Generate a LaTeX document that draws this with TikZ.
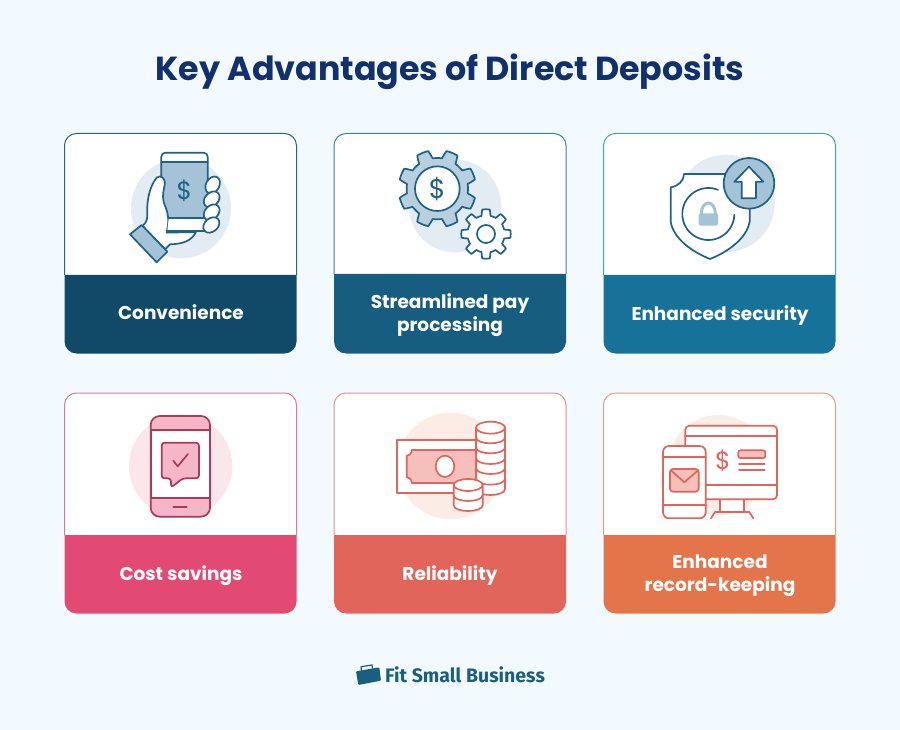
\documentclass[tikz,border=0pt]{standalone}
\usepackage{fontspec}
\setmainfont{Poppins}
\newfontfamily\logofont{Fira Sans}
\definecolor{bgc}{HTML}{F2FAFF}
\definecolor{navy}{HTML}{12306B}
\definecolor{bstroke}{HTML}{1F6285}
\definecolor{bfill}{HTML}{A5C3D6}
\definecolor{bcirc}{HTML}{E2ECF2}
\definecolor{pstroke}{HTML}{A83A5E}
\definecolor{pfill}{HTML}{F5B6C8}
\definecolor{pcirc}{HTML}{FBE6EC}
\definecolor{rstroke}{HTML}{E0655C}
\definecolor{rfill}{HTML}{F5C0BB}
\definecolor{rcirc}{HTML}{FBECE6}
\definecolor{logoc}{HTML}{1B5F80}
\definecolor{headA}{HTML}{114A68}
\definecolor{headB}{HTML}{165D80}
\definecolor{headC}{HTML}{17729A}
\definecolor{headD}{HTML}{E24A74}
\definecolor{headE}{HTML}{E2655C}
\definecolor{headF}{HTML}{E4754B}
\definecolor{edgeA}{HTML}{2C6580}
\definecolor{edgeB}{HTML}{3A85A5}
\definecolor{edgeC}{HTML}{4AA0BE}
\definecolor{edgeD}{HTML}{E0789A}
\definecolor{edgeE}{HTML}{E88F86}
\definecolor{edgeF}{HTML}{EC9C78}
\tikzset{
  ico/.style={line width=1.7pt,line join=round,line cap=round},
  cardlabel/.style={text=white,font=\bfseries\fontsize{18.5}{23}\selectfont,align=center,inner sep=0pt},
  dollar/.style={inner sep=0pt,font=\fontsize{#1}{#1}\selectfont},
}
% x1 y1 x2 split y2 border fill
\newcommand{\acard}[7]{%
  \fill[white,rounded corners=12pt] (#1,#2) rectangle (#3,#5);
  \fill[#7] (#1,#4) -- (#3,#4) [rounded corners=12pt] -- (#3,#5) -- (#1,#5) [sharp corners] -- cycle;
  \draw[#6,line width=1pt] (#1,#4) [rounded corners=12pt] -- (#1,#2) -- (#3,#2) [sharp corners] -- (#3,#4);
}
\newcommand{\lowarc}[4]{(#1-#2,#3) .. controls (#1-#2,#3+1.33*#4) and (#1+#2,#3+1.33*#4) .. (#1+#2,#3)}
\newcommand{\agear}[7]{%
  \draw[#7] plot[domain=0:360,samples=289] ({#1+(#4+(#3-#4)*max(0,min(1,0.5+1.5*cos(#5*(\x-#6)))))*cos(\x)},{#2+(#4+(#3-#4)*max(0,min(1,0.5+1.5*cos(#5*(\x-#6)))))*sin(\x)}) -- cycle;
}
\begin{document}
\begin{tikzpicture}[x=1pt,y=-1pt]
\useasboundingbox (0,0) rectangle (900,730);
\fill[bgc] (0,0) rectangle (900,730);
\node[text=navy,font=\bfseries\fontsize{33.3}{40}\selectfont,inner sep=0pt] (title) at (450,72) {Key Advantages of Direct Deposits};

\acard{64.5}{133.5}{296.5}{275}{353.5}{edgeA}{headA}
\acard{334}{133.5}{566}{274}{353.5}{edgeB}{headB}
\acard{603.5}{133.5}{835.5}{275}{353.5}{edgeC}{headC}
\acard{64.5}{393}{296.5}{535}{613.5}{edgeD}{headD}
\acard{334}{393}{566}{535}{613.5}{edgeE}{headE}
\acard{603.5}{393}{835.5}{535}{613.5}{edgeF}{headF}

\node[cardlabel] (l1) at (181,312.5) {Convenience};
\node[cardlabel] (l2) at (450,315.5) {Streamlined pay\\processing};
\node[cardlabel] (l3) at (720,315.5) {Enhanced security};
\node[cardlabel] (l4) at (181,575.5) {Cost savings};
\node[cardlabel] (l5) at (450,575.5) {Reliability};
\node[cardlabel] (l6) at (720,576) {Enhanced\\record-keeping};

% ---- icon 1: hand with phone
\begin{scope}[shift={(60,130)},x=0.33333pt,y=-0.33333pt]
\fill[bcirc] (363,235) circle[radius=150];
\fill[white,rounded corners=4pt] (304,265) -- (304,68) -- (443,68) -- (443,265) -- cycle;
\fill[bfill] (304,97) rectangle (443,262);
\draw[ico,bstroke,rounded corners=4pt] (304,265) -- (304,68) -- (443,68) -- (443,265) -- cycle;
\draw[ico,bstroke] (304,97) -- (443,97);
\draw[ico,bstroke,fill=white] (248,288) .. controls (262,275) and (262,265) .. (262,245)
  .. controls (260,205) and (272,165) .. (290,143)
  .. controls (302,133) and (318,145) .. (314,165)
  .. controls (308,195) and (305,205) .. (318,235)
  .. controls (328,262) and (325,285) .. (320,308)
  -- (408,306) .. controls (395,332) and (370,342) .. (330,343) -- (315,358) -- cycle;
\draw[ico,bstroke,fill=white] (326,265) -- (445,265) -- (445,303) -- (322,303);
\node[dollar=25,text=bstroke] (d1) at (373,181) {\$};
\foreach \fx/\fy/\fa in {458/165/60,455/208/45,455/247/45,454/285/40}{
  \draw[ico,bstroke,fill=white,rotate around={\fa:(\fx,\fy)}] (\fx,\fy) ellipse[x radius=27,y radius=20];
}
\draw[ico,bstroke,fill=bfill] (245,285) -- (322,365) -- (290,397) -- (210,313) -- cycle;
\end{scope}

% ---- icon 2: gears
\begin{scope}[shift={(330,130)},x=0.33333pt,y=-0.33333pt]
\fill[bcirc] (375,228) circle[radius=139];
\agear{322}{176}{116}{92}{8}{22.5}{ico,bstroke,fill=bfill!80!white}
\draw[ico,bstroke,fill=white] (322,176) circle[radius=67];
\node[dollar=27,text=bstroke] (d2) at (322,176) {\$};
\agear{468}{312}{74}{56}{8}{0}{ico,bstroke,fill=white}
\draw[ico,bstroke,fill=white] (468,312) circle[radius=27];
\end{scope}

% ---- icon 3: shield
\begin{scope}[shift={(600,130)},x=0.33333pt,y=-0.33333pt]
\fill[bcirc] (378,220) circle[radius=146];
\draw[ico,bstroke,fill=white] (252,132) -- (400,132) -- (449,172) -- (449,275)
  .. controls (440,325) and (385,365) .. (330,387)
  .. controls (275,365) and (220,325) .. (212,275)
  -- (212,172) .. controls (235,168) and (250,155) .. (252,132) -- cycle;
\draw[ico,bstroke] plot[domain=2:292,samples=80] ({325+78*cos(\x)},{252+78*sin(\x)});
\fill[bfill,rounded corners=1.5pt] (296,250) rectangle (354,287);
\draw[bfill,line width=3pt] (304,252) .. controls (304,208) and (346,208) .. (346,252);
\draw[ico,bstroke,fill=bfill] (447,160) circle[radius=76];
\draw[ico,bstroke,fill=white] (447,110) -- (490,155) -- (468,155) -- (468,205) -- (425,205) -- (425,155) -- (403,155) -- cycle;
\end{scope}

% ---- icon 4: phone with message
\begin{scope}[shift={(60,390)},x=0.33333pt,y=-0.33333pt]
\fill[pcirc] (362,228) circle[radius=155];
\draw[ico,pstroke,fill=pfill,rounded corners=9pt] (272,78) rectangle (450,380);
\draw[ico,pstroke,fill=white] (272,120) rectangle (450,323);
\draw[ico,pstroke,fill=pfill,rounded corners=3pt] (305,158) -- (417,158) -- (417,265) -- (368,265) -- (333,293) -- (333,265) -- (305,265) -- cycle;
\draw[ico,pstroke] (340,212) -- (353,229) -- (384,192);
\draw[ico,pstroke] (340,351) -- (380,351);
\end{scope}

% ---- icon 5: money
\begin{scope}[shift={(330,390)},x=0.33333pt,y=-0.33333pt]
\fill[rcirc] (362,228) circle[radius=160];
\draw[ico,rstroke,fill=white,line cap=butt] (200,150) rectangle (445,310);
\draw[ico,rstroke,fill=rfill] (245,180) -- (445,180) -- (445,279) -- (245,279)
  .. controls (245,268) and (240,264) .. (230,262) -- (230,197) .. controls (240,195) and (245,191) .. (245,180) -- cycle;
\draw[ico,rstroke,fill=white] (345,229) ellipse[x radius=28,y radius=32];
\draw[ico,rstroke,fill=white] (438,113) -- (438,297) .. controls (438,321) and (525,321) .. (525,297) -- (525,113) -- cycle;
\foreach \yy in {142,172,204,234,266}{ \draw[ico,rstroke] \lowarc{481.5}{43.5}{\yy}{18}; }
\draw[ico,rstroke,fill=white] (481.5,113) ellipse[x radius=43.5,y radius=18];
\draw[ico,rstroke,fill=white] (371,285) -- (371,345) .. controls (371,369) and (458,369) .. (458,345) -- (458,285) -- cycle;
\draw[ico,rstroke] \lowarc{414.5}{43.5}{315}{18};
\draw[ico,rstroke,fill=white] (414.5,285) ellipse[x radius=43.5,y radius=18];
\end{scope}

% ---- icon 6: devices
\begin{scope}[shift={(600,390)},x=0.33333pt,y=-0.33333pt]
\fill[rcirc] (355,225) circle[radius=150];
\fill[white] (360,328) rectangle (432,366);
\draw[ico,rstroke] (360,328) -- (360,366) (432,328) -- (432,366);
\draw[ico,rstroke] (333,385) -- (345,366) -- (448,366) -- (460,385);
\draw[ico,rstroke,fill=white,rounded corners=4pt] (256,107) rectangle (531,328);
\draw[ico,rstroke] (256,138) -- (531,138) (256,285) -- (531,285);
\node[dollar=25,text=rstroke] (d3) at (369,212) {\$};
\draw[ico,rstroke,fill=rfill,rounded corners=2pt] (415,181) rectangle (496,204);
\draw[ico,rstroke] (417,222) -- (494,222) (417,240) -- (494,240);
\draw[ico,rstroke,fill=white,rounded corners=6pt] (189,168) rectangle (317,385);
\draw[ico,rstroke] (189,200) -- (317,200) (189,345) -- (317,345);
\draw[ico,rstroke,fill=rfill,rounded corners=3pt] (210,237) rectangle (296,305);
\draw[ico,rstroke] (215,243) -- (253,277) -- (292,243);
\end{scope}

% ---- logo
\begin{scope}[shift={(340,650)},x=0.33333pt,y=-0.33333pt]
\draw[logoc,line width=1.2pt] (64,62) -- (64,50) -- (96,45) -- (98,56);
\fill[logoc,rounded corners=1pt] (48,64) -- (118,52) -- (123,92) -- (55,105) -- cycle;
\end{scope}
\node[text=logoc,anchor=west,inner sep=0pt,font=\logofont\bfseries\fontsize{19.5}{22}\selectfont] (logo) at (385,675) {Fit Small Business};
\end{tikzpicture}
\end{document}
